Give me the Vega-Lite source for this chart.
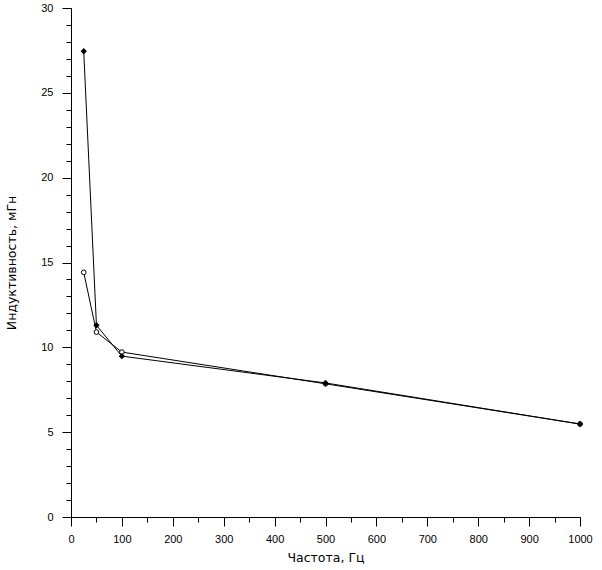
{
  "$schema": "https://vega.github.io/schema/vega-lite/v6.json",
  "width": 509,
  "height": 509,
  "autosize": {"type": "none"},
  "padding": {"left": 71, "top": 8, "right": 22, "bottom": 53},
  "background": "white",
  "config": {
    "view": {"stroke": null},
    "axis": {
      "labelFont": "Liberation Sans",
      "titleFont": "DejaVu Sans",
      "labelFontSize": 11,
      "titleFontSize": 12.5,
      "titleFontWeight": "normal",
      "labelColor": "black",
      "titleColor": "black",
      "domainColor": "black",
      "tickColor": "black",
      "grid": false
    }
  },
  "data": {
    "values": [
      {"series": "A", "f": 25, "L": 27.45},
      {"series": "A", "f": 50, "L": 11.3},
      {"series": "A", "f": 100, "L": 9.48},
      {"series": "A", "f": 500, "L": 7.9},
      {"series": "A", "f": 1000, "L": 5.48},
      {"series": "B", "f": 25, "L": 14.42},
      {"series": "B", "f": 50, "L": 10.9},
      {"series": "B", "f": 100, "L": 9.72},
      {"series": "B", "f": 500, "L": 7.85},
      {"series": "B", "f": 1000, "L": 5.48}
    ]
  },
  "resolve": {"axis": {"x": "independent", "y": "independent"}},
  "layer": [
    {
      "mark": {"type": "point", "opacity": 0},
      "encoding": {
        "x": {
          "field": "f", "type": "quantitative",
          "scale": {"domain": [0, 1000], "nice": false},
          "axis": {"orient": "bottom", "values": [0, 50, 100, 150, 200, 250, 300, 350, 400, 450, 500, 550, 600, 650, 700, 750, 800, 850, 900, 950, 1000], "labels": false, "title": null, "domain": false, "tickSize": 5}
        },
        "y": {
          "field": "L", "type": "quantitative",
          "scale": {"domain": [0, 30], "nice": false, "zero": true},
          "axis": {"orient": "left", "values": [0, 1, 2, 3, 4, 5, 6, 7, 8, 9, 10, 11, 12, 13, 14, 15, 16, 17, 18, 19, 20, 21, 22, 23, 24, 25, 26, 27, 28, 29, 30], "labels": false, "title": null, "domain": false, "tickSize": 5}
        }
      }
    },
    {
      "mark": {"type": "line", "color": "black", "strokeWidth": 1},
      "encoding": {
        "x": {
          "field": "f", "type": "quantitative",
          "scale": {"domain": [0, 1000], "nice": false},
          "axis": {"orient": "bottom", "values": [0, 100, 200, 300, 400, 500, 600, 700, 800, 900, 1000], "format": "d", "title": "Частота, Гц", "tickSize": 9, "labelPadding": 7, "titlePadding": 7, "labelFlush": false}
        },
        "y": {
          "field": "L", "type": "quantitative",
          "scale": {"domain": [0, 30], "nice": false},
          "axis": {"orient": "left", "values": [0, 5, 10, 15, 20, 25, 30], "format": "d", "title": "Индуктивность, мГн", "tickSize": 9, "labelPadding": 9, "titlePadding": 22, "labelFlush": false}
        },
        "detail": {"field": "series"},
        "order": {"field": "f"}
      }
    },
    {
      "transform": [{"filter": "datum.series == 'B'"}],
      "mark": {"type": "point", "shape": "circle", "filled": true, "fill": "white", "stroke": "black", "strokeWidth": 1, "size": 22, "opacity": 1},
      "encoding": {
        "x": {"field": "f", "type": "quantitative", "axis": null},
        "y": {"field": "L", "type": "quantitative", "axis": null}
      }
    },
    {
      "transform": [{"filter": "datum.series == 'A'"}],
      "mark": {"type": "point", "shape": "diamond", "filled": true, "color": "black", "size": 40, "opacity": 1},
      "encoding": {
        "x": {"field": "f", "type": "quantitative", "axis": null},
        "y": {"field": "L", "type": "quantitative", "axis": null}
      }
    }
  ]
}
